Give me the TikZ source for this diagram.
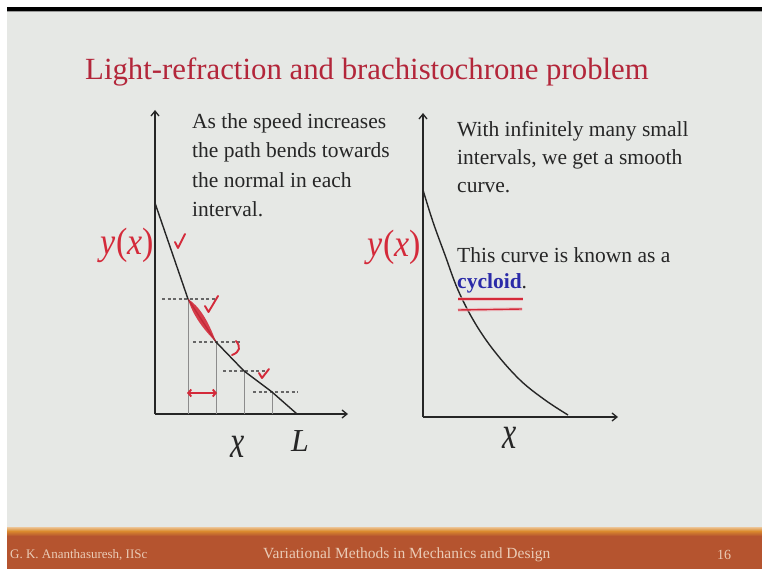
\documentclass[tikz,border=0pt]{standalone}
\usepackage{fontspec}
\setmainfont{Liberation Serif}
\usepackage{graphicx}
\usetikzlibrary{arrows.meta}
\definecolor{bg}{HTML}{E6E8E5}
\definecolor{titlered}{HTML}{B3263A}
\definecolor{annot}{HTML}{D42A3A}
\definecolor{foot}{HTML}{B5542F}
\definecolor{footline}{HTML}{DA8A2E}
\definecolor{foottext}{HTML}{EACBB6}
\definecolor{txt}{HTML}{262626}
\definecolor{cyc}{HTML}{2A2AA8}
\tikzset{
  body/.style={anchor=base west, inner sep=0pt, text=txt, font=\fontsize{21.5}{24}\selectfont},
  axis/.style={line width=1.3pt, draw=black!85, -{Straight Barb[length=5pt,width=8pt]}},
  curve/.style={line width=1.4pt, draw=black!85},
  dashes/.style={line width=1.3pt, draw=black!60, dash pattern=on 3pt off 2.5pt},
  thin/.style={line width=0.6pt, draw=black!45},
  redmark/.style={line width=1.9pt, draw=annot, line cap=round, line join=round},
  ylab/.style={inner sep=0pt, anchor=base east, text=annot, font=\fontsize{34}{36}\selectfont},
  xlab/.style={inner sep=0pt, anchor=base, text=black!85, font=\fontsize{32}{36}\selectfont},
  foottxt/.style={inner sep=0pt, anchor=base west, text=foottext}
}
\begin{document}
\begin{tikzpicture}[x=1pt,y=-1pt]
\useasboundingbox (0,0) rectangle (762,569);
\fill[white] (0,0) rectangle (762,569);
\fill[bg] (7,11) rectangle (762,528);
\fill[black] (7,7) rectangle (762,11);
\fill[black!40] (7,11) rectangle (762,12);
% footer
\fill[foot] (7,529) rectangle (762,569);
\shade[top color=footline!50!white, bottom color=footline] (7,527) rectangle (762,531);
\shade[top color=footline, bottom color=foot] (7,531) rectangle (762,536);
\node[foottxt, font=\fontsize{13}{15}\selectfont] (f1) at (10,558) {G. K. Ananthasuresh, IISc};
\node[foottxt, font=\fontsize{15.5}{17}\selectfont] (f2) at (263,558) {Variational Methods in Mechanics and Design};
\node[foottxt, font=\fontsize{14}{15}\selectfont] (f3) at (717,559) {16};

% title
\node[inner sep=0pt, anchor=base west, text=titlered, font=\fontsize{30.8}{32}\selectfont] (title) at (85,80) {Light-refraction and brachistochrone problem};

% ---------- left graph
\coordinate (O1) at (155,414);
\coordinate (Y1) at (155,110);
\coordinate (X1) at (348,414);
\draw[axis] (O1) -- (Y1);
\draw[axis] (O1) -- (X1);
\coordinate (p0) at (155,203);
\coordinate (p1) at (188,299);
\coordinate (p2) at (216,342);
\coordinate (p3) at (244,371);
\coordinate (p4) at (272,392);
\coordinate (p5) at (297,414);
\foreach \p in {p1,p2,p3,p4} \draw[thin] (\p) -- (\p |- O1);
\draw[dashes] (162,299) -- (215,299);
\draw[dashes] (193,342) -- (240,342);
\draw[dashes] (223,371) -- (268,371);
\draw[dashes] (253,392) -- (298,392);
\draw[curve] (p0) -- (p1) -- (p2) -- (p3) -- (p4) -- (p5);
% red annotations
\fill[annot, opacity=0.9] (p1) .. controls (199,306) and (208,320) .. (p2) .. controls (204,330) and (193,316) .. cycle;
\draw[redmark] (175,242) -- (178,248) -- (185,234);
\draw[redmark] (205,306) -- (208.5,312) -- (218,296);
\draw[redmark] (236,341) .. controls (241,347) and (240,352) .. (232,355);
\draw[redmark] (259,373) -- (262,378) -- (269,369);
\draw[redmark, {Straight Barb[length=3pt,width=7pt]}-{Straight Barb[length=3pt,width=7pt]}] (187,393) -- (217,393);
\node[ylab] (yl) at (154,254) {\scalebox{1}[1.12]{\itshape y\upshape(\itshape x\upshape)}};
\node[xlab] (xl) at (238,457) {\scalebox{1}[1.45]{\itshape x}};
\node[xlab] (Ll) at (300,451) {\itshape L};
\node[body] (a1) at (192,129) {As the speed increases};
\node[body] (a2) at (192,158) {the path bends towards};
\node[body] (a3) at (192,188) {the normal in each};
\node[body] (a4) at (192,217) {interval.};

% ---------- right graph
\coordinate (O2) at (423,417);
\coordinate (Y2) at (423,113);
\coordinate (X2) at (618,417);
\draw[axis] (O2) -- (Y2);
\draw[axis] (O2) -- (X2);
\draw[curve] plot[smooth, tension=0.6] coordinates {(423,190) (433,222) (445,255) (458,290) (475,323) (495,352) (520,380) (545,400) (568,415)};
\node[ylab] (yr) at (421,256) {\scalebox{1}[1.12]{\itshape y\upshape(\itshape x\upshape)}};
\node[xlab] (xr) at (510,448) {\scalebox{1}[1.45]{\itshape x}};
\node[body] (b1) at (457,137) {With infinitely many small};
\node[body] (b2) at (457,165) {intervals, we get a smooth};
\node[body] (b3) at (457,193) {curve.};
\node[body] (b4) at (457,262) {This curve is known as a};
\node[body] (b5) at (457,288) {\textcolor{cyc}{\bfseries cycloid}.};
\draw[annot!40, line width=3.5pt, opacity=0.6] (458,299) -- (523,299);
\draw[annot!40, line width=3.5pt, opacity=0.6] (458,310) -- (522,309);
\draw[annot, line width=1.4pt] (458,299) -- (523,299);
\draw[annot, line width=1.4pt] (458,310) -- (522,309);
\end{tikzpicture}
\end{document}
